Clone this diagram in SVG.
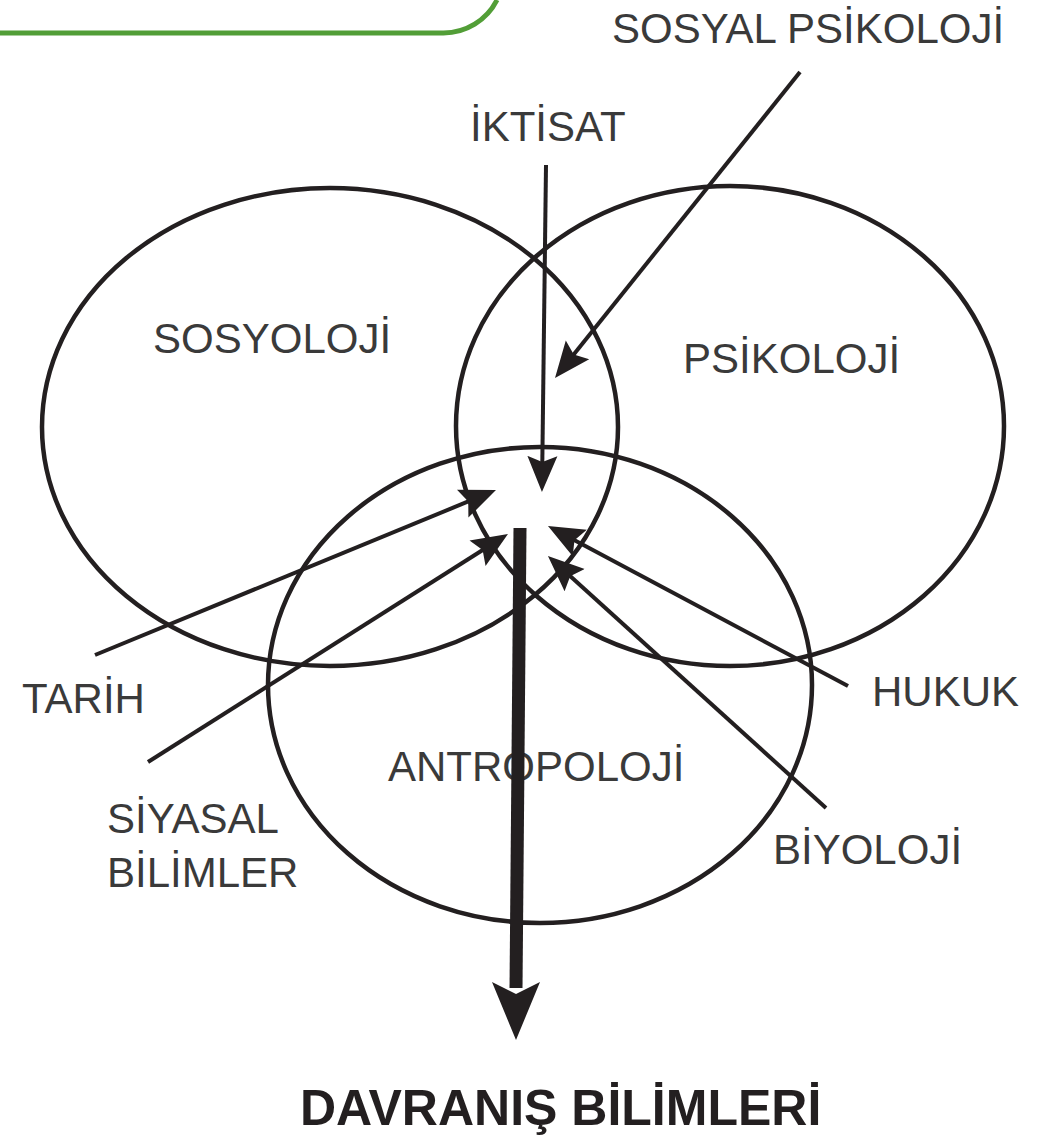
<svg xmlns="http://www.w3.org/2000/svg" width="1040" height="1138" viewBox="0 0 1040 1138">
<style>
  .ring { fill: none; stroke: #231f20; stroke-width: 4.5; }
  .conn { fill: none; stroke: #231f20; stroke-width: 4; }
  .lbl { font-family: "Liberation Sans", Arial, sans-serif; font-size: 42px; fill: #3a3a3a; }
  .title { font-family: "Liberation Sans", Arial, sans-serif; font-size: 50px; font-weight: bold; fill: #231f20; }
</style>
<defs>
  <marker id="ah" markerUnits="userSpaceOnUse" markerWidth="40" markerHeight="34" viewBox="0 -17 40 34" refX="8" refY="0" orient="auto">
    <path d="M0,-15 L36,0 L0,15 L6,0 Z" fill="#231f20"/>
  </marker>
</defs>
<rect width="1040" height="1138" fill="#ffffff"/>
<path d="M0,33 H443 A60,60 0 0 0 497,0" fill="none" stroke="#529e37" stroke-width="5"/>

<g id="sosyoloji">
  <ellipse class="ring" cx="330" cy="427" rx="288" ry="239"/>
  <text class="lbl" x="153" y="353">SOSYOLOJİ</text>
</g>
<g id="psikoloji">
  <ellipse class="ring" cx="730" cy="426" rx="274" ry="240"/>
  <text class="lbl" x="683" y="373">PSİKOLOJİ</text>
</g>
<g id="antropoloji">
  <ellipse class="ring" cx="540" cy="685" rx="272" ry="238"/>
  <text class="lbl" x="388" y="781">ANTROPOLOJİ</text>
</g>
<g id="iktisat"><text class="lbl" x="470" y="141">İKTİSAT</text></g>
<g id="sosyal-psikoloji"><text class="lbl" x="612" y="43">SOSYAL PSİKOLOJİ</text></g>
<g id="tarih"><text class="lbl" x="22" y="713">TARİH</text></g>
<g id="siyasal"><text class="lbl" x="107" y="833">SİYASAL</text><text class="lbl" x="107" y="887">BİLİMLER</text></g>
<g id="hukuk"><text class="lbl" x="872" y="706">HUKUK</text></g>
<g id="biyoloji"><text class="lbl" x="773" y="864">BİYOLOJİ</text></g>
<g id="davranis"><text class="title" x="300" y="1125">DAVRANIŞ BİLİMLERİ</text></g>

<g id="connectors">
  <line class="conn" x1="546" y1="165" x2="542.3" y2="464" marker-end="url(#ah)"/>
  <line class="conn" x1="800" y1="72" x2="572.5" y2="356.1" marker-end="url(#ah)"/>
  <line class="conn" x1="95" y1="655" x2="470.1" y2="500.7" marker-end="url(#ah)"/>
  <line class="conn" x1="148" y1="762" x2="484.3" y2="549" marker-end="url(#ah)"/>
  <line class="conn" x1="848" y1="686" x2="572.7" y2="539.2" marker-end="url(#ah)"/>
  <line class="conn" x1="826" y1="808" x2="568.7" y2="574.8" marker-end="url(#ah)"/>
  <line x1="520" y1="528" x2="516" y2="988" stroke="#231f20" stroke-width="13"/>
  <path d="M492,982 L516,994 L540,982 L516,1040 Z" fill="#231f20"/>
</g>
</svg>
